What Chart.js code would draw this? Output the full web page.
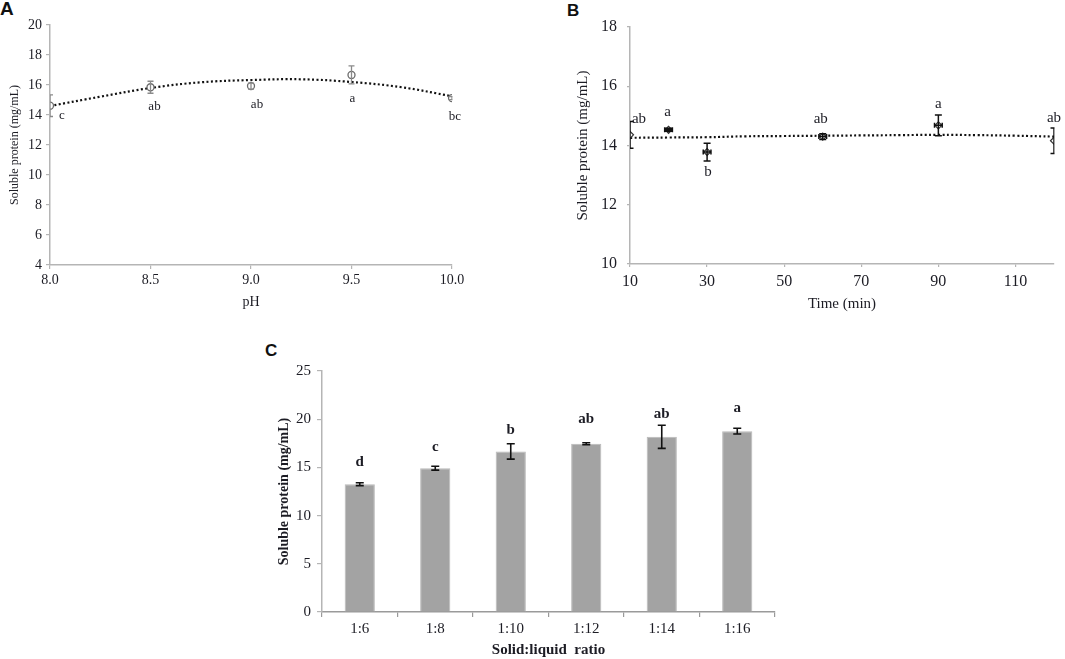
<!DOCTYPE html>
<html>
<head>
<meta charset="utf-8">
<script src="https://cdn.jsdelivr.net/npm/chart.js@4.4.1/dist/chart.umd.min.js"></script>
<style>
  body { margin: 0; background: #fff; width: 1065px; height: 659px; overflow: hidden; position: relative; }
  canvas { position: absolute; }
  .tag { position: absolute; font: bold 17px "Liberation Sans", Arial, sans-serif; color: #111; }
</style>
</head>
<body>
<div class="tag" style="left:0;top:-2px;font-size:19px">A</div>
<div class="tag" style="left:567px;top:1px">B</div>
<div class="tag" style="left:265px;top:341px">C</div>
<canvas id="chartA" width="480" height="312" style="left:0;top:0"></canvas>
<canvas id="chartB" width="525" height="313" style="left:540px;top:0"></canvas>
<canvas id="chartC" width="560" height="329" style="left:240px;top:330px"></canvas>
<script>
// A: pH
const phX = [8.0, 8.5, 9.0, 9.5, 10.0];
const phProtein = [14.62, 15.85, 15.93, 16.67, 15.13];
const phErr = [0.72, 0.4, 0.2, 0.6, 0.1];
const phLetters = ['c', 'ab', 'ab', 'a', 'bc'];
const phTrendX = [8.0, 8.25, 8.5, 8.75, 9.0, 9.25, 9.5, 9.75, 10.0];
const phTrend = [14.6, 15.22, 15.8, 16.18, 16.33, 16.38, 16.2, 15.85, 15.25];
const phTicks = [8.0, 8.5, 9.0, 9.5, 10.0];
const phYTicks = [4, 6, 8, 10, 12, 14, 16, 18, 20];

// B: extraction time
const timeX = [10, 20, 30, 60, 90, 120];
const timeProtein = [14.36, 14.53, 13.78, 14.30, 14.68, 14.16];
const timeErr = [0.45, 0.05, 0.3, 0.1, 0.35, 0.43];
const timeXErr = [0, 1, 1, 1, 1, 0];
const timeLetters = ['ab', 'a', 'b', 'ab', 'a', 'ab'];
const timeTrendX = [10, 20, 30, 40, 50, 60, 70, 80, 90, 100, 110, 120];
const timeTrend = [14.26, 14.27, 14.28, 14.31, 14.32, 14.33, 14.34, 14.35, 14.36, 14.35, 14.33, 14.30];
const timeTicks = [10, 30, 50, 70, 90, 110];
const timeYTicks = [10, 12, 14, 16, 18];

// C: solid:liquid ratio
const ratioLabels = ['1:6', '1:8', '1:10', '1:12', '1:14', '1:16'];
const ratioProtein = [13.26, 14.92, 16.66, 17.45, 18.17, 18.76];
const ratioErr = [0.15, 0.2, 0.8, 0.1, 1.2, 0.3];
const ratioLetters = ['d', 'c', 'b', 'ab', 'ab', 'a'];
const ratioYTicks = [0, 5, 10, 15, 20, 25];

const serif = 'Liberation Serif, Times New Roman, serif';
const txt = '#1c1c24';
const axisGray = '#b5b5b5';

// error bars + significance letters, read from dataset.errY / errX / letters
const marks = {
  id: 'marks',
  afterDatasetsDraw(chart, args, o) {
    const { ctx, chartArea: a } = chart;
    const xs = chart.scales.x, ys = chart.scales.y;
    chart.data.datasets.forEach((ds, di) => {
      if (!ds.errY) return;
      const meta = chart.getDatasetMeta(di);
      ctx.save();
      ctx.beginPath();
      ctx.rect(a.left, 0, a.width + 0.5, chart.height);
      ctx.clip();
      ctx.strokeStyle = o.color;
      ctx.lineWidth = o.width;
      const cap = o.cap;
      meta.data.forEach((el, i) => {
        const d = ds.data[i];
        const v = typeof d === 'object' ? d.y : d;
        const x = el.x, y = el.y;
        const t = ys.getPixelForValue(v + ds.errY[i]);
        const b = ys.getPixelForValue(v - ds.errY[i]);
        ctx.beginPath();
        ctx.moveTo(x, t); ctx.lineTo(x, b);
        ctx.moveTo(x - cap, t); ctx.lineTo(x + cap, t);
        ctx.moveTo(x - cap, b); ctx.lineTo(x + cap, b);
        if (ds.errX && ds.errX[i]) {
          const l = xs.getPixelForValue(d.x - ds.errX[i]);
          const r = xs.getPixelForValue(d.x + ds.errX[i]);
          ctx.moveTo(l, y); ctx.lineTo(r, y);
          ctx.moveTo(l, y - 2.5); ctx.lineTo(l, y + 2.5);
          ctx.moveTo(r, y - 2.5); ctx.lineTo(r, y + 2.5);
        }
        ctx.stroke();
      });
      ctx.restore();
      ctx.save();
      ctx.font = o.font;
      ctx.fillStyle = txt;
      ctx.textAlign = 'center';
      ctx.textBaseline = 'middle';
      meta.data.forEach((el, i) => {
        const p = o.place[i];
        ctx.fillText(ds.letters[i], el.x + p[0], el.y + p[1]);
      });
      ctx.restore();
    });
  }
};

function yAxis(min, max, ticks, width, title, size, titleSize, bold, tick, pad, titlePad) {
  return {
    min, max,
    afterBuildTicks: s => { s.ticks = ticks.map(v => ({ value: v })); },
    afterFit: s => { s.width = width; },
    ticks: { font: { family: serif, size }, color: txt, padding: pad },
    grid: { drawOnChartArea: false, tickLength: tick, color: axisGray, lineWidth: 1.2 },
    border: { color: axisGray, width: 1.5 },
    title: { display: true, text: title, color: txt, padding: { top: titlePad, bottom: 0 },
      font: { family: serif, size: titleSize, weight: bold ? 'bold' : 'normal' } }
  };
}

const base = {
  responsive: false,
  animation: false,
  events: [],
  plugins: { legend: { display: false }, tooltip: { enabled: false } }
};

// Panel A
new Chart(document.getElementById('chartA'), {
  type: 'scatter',
  data: {
    datasets: [
      { data: phX.map((x, i) => ({ x, y: phProtein[i] })), errY: phErr, letters: phLetters,
        pointStyle: 'circle', pointRadius: 3.5, pointBackgroundColor: '#fff',
        pointBorderColor: '#6a6a6a', pointBorderWidth: 1.3 },
      { data: phTrendX.map((x, i) => ({ x, y: phTrend[i] })), showLine: true, tension: 0.4,
        borderColor: '#111', borderWidth: 2.2, borderDash: [2, 2.4], pointRadius: 0 }
    ]
  },
  options: {
    ...base,
    layout: { padding: { top: 25, right: 28, bottom: 0 } },
    plugins: {
      ...base.plugins,
      marks: { color: '#8a8a8a', width: 1.3, cap: 3, font: '13px ' + serif,
        place: [[12, 10], [4, 19], [6, 19], [1, 24], [3, 19]] }
    },
    scales: {
      x: {
        type: 'linear', min: 8, max: 10,
        afterBuildTicks: s => { s.ticks = phTicks.map(v => ({ value: v })); },
        afterFit: s => { s.height = 47; },
        ticks: { font: { family: serif, size: 14 }, color: txt, padding: 3, callback: v => v.toFixed(1) },
        grid: { drawOnChartArea: false, tickLength: 4, color: axisGray, lineWidth: 1.2 },
        border: { color: axisGray, width: 1.5 },
        title: { display: true, text: 'pH', color: txt, padding: { top: 0, bottom: 1 },
          font: { family: serif, size: 14 } }
      },
      y: yAxis(4, 20, phYTicks, 50, 'Soluble protein (mg/mL)', 14, 12, false, 4, 4, 8)
    }
  },
  plugins: [marks]
});

// Panel B
new Chart(document.getElementById('chartB'), {
  type: 'scatter',
  data: {
    datasets: [
      { data: timeX.map((x, i) => ({ x, y: timeProtein[i] })), errY: timeErr, errX: timeXErr,
        letters: timeLetters, pointStyle: 'rectRot', pointRadius: 3.5,
        pointBackgroundColor: '#fff', pointBorderColor: '#333', pointBorderWidth: 1.2 },
      { data: timeTrendX.map((x, i) => ({ x, y: timeTrend[i] })), showLine: true, tension: 0.4,
        borderColor: '#111', borderWidth: 2.2, borderDash: [2, 2.4], pointRadius: 0 }
    ]
  },
  options: {
    ...base,
    layout: { padding: { top: 27, right: 11, bottom: 0 } },
    plugins: {
      ...base.plugins,
      marks: { color: '#111', width: 1.5, cap: 3.5, font: '15px ' + serif,
        place: [[9, -16], [-1, -18], [1, 20], [-2, -18], [0, -21], [0, -23]] }
    },
    scales: {
      x: {
        type: 'linear', min: 10, max: 120,
        afterBuildTicks: s => { s.ticks = timeTicks.map(v => ({ value: v })); },
        afterFit: s => { s.height = 49; },
        ticks: { font: { family: serif, size: 16 }, color: txt, padding: 5 },
        grid: { drawOnChartArea: false, tickLength: 3, color: axisGray, lineWidth: 1.2 },
        border: { color: axisGray, width: 1.5 },
        title: { display: true, text: 'Time (min)', color: txt, padding: { top: 0, bottom: 0 },
          font: { family: serif, size: 15 } }
      },
      y: yAxis(10, 18, timeYTicks, 90, 'Soluble protein (mg/mL)', 16, 15, false, 3, 10, 34)
    }
  },
  plugins: [marks]
});

// Panel C
new Chart(document.getElementById('chartC'), {
  type: 'bar',
  data: {
    labels: ratioLabels,
    datasets: [
      { data: ratioProtein, errY: ratioErr, letters: ratioLetters,
        backgroundColor: '#a3a3a3', borderColor: '#b9b9b9', borderWidth: 1,
        barPercentage: 0.4, categoryPercentage: 1 }
    ]
  },
  options: {
    ...base,
    layout: { padding: { top: 41, right: 25, bottom: 0 } },
    plugins: {
      ...base.plugins,
      marks: { color: '#111', width: 1.6, cap: 4, font: 'bold 15px ' + serif,
        place: [[0, -22], [0, -21], [0, -21], [0, -25], [0, -23], [0, -23]] }
    },
    scales: {
      x: {
        afterFit: s => { s.height = 47; },
        ticks: { font: { family: serif, size: 15 }, color: txt, padding: 3 },
        grid: { drawOnChartArea: false, tickLength: 5, color: '#9a9a9a', offset: true, lineWidth: 1.2 },
        border: { color: '#9a9a9a', width: 1.5 },
        title: { display: true, text: 'Solid:liquid  ratio', color: txt, padding: { top: 0, bottom: 0 },
          font: { family: serif, size: 15, weight: 'bold' } }
      },
      y: yAxis(0, 25, ratioYTicks, 82, 'Soluble protein (mg/mL)', 15, 14, true, 5, 6, 36)
    }
  },
  plugins: [marks]
});
</script>
</body>
</html>
